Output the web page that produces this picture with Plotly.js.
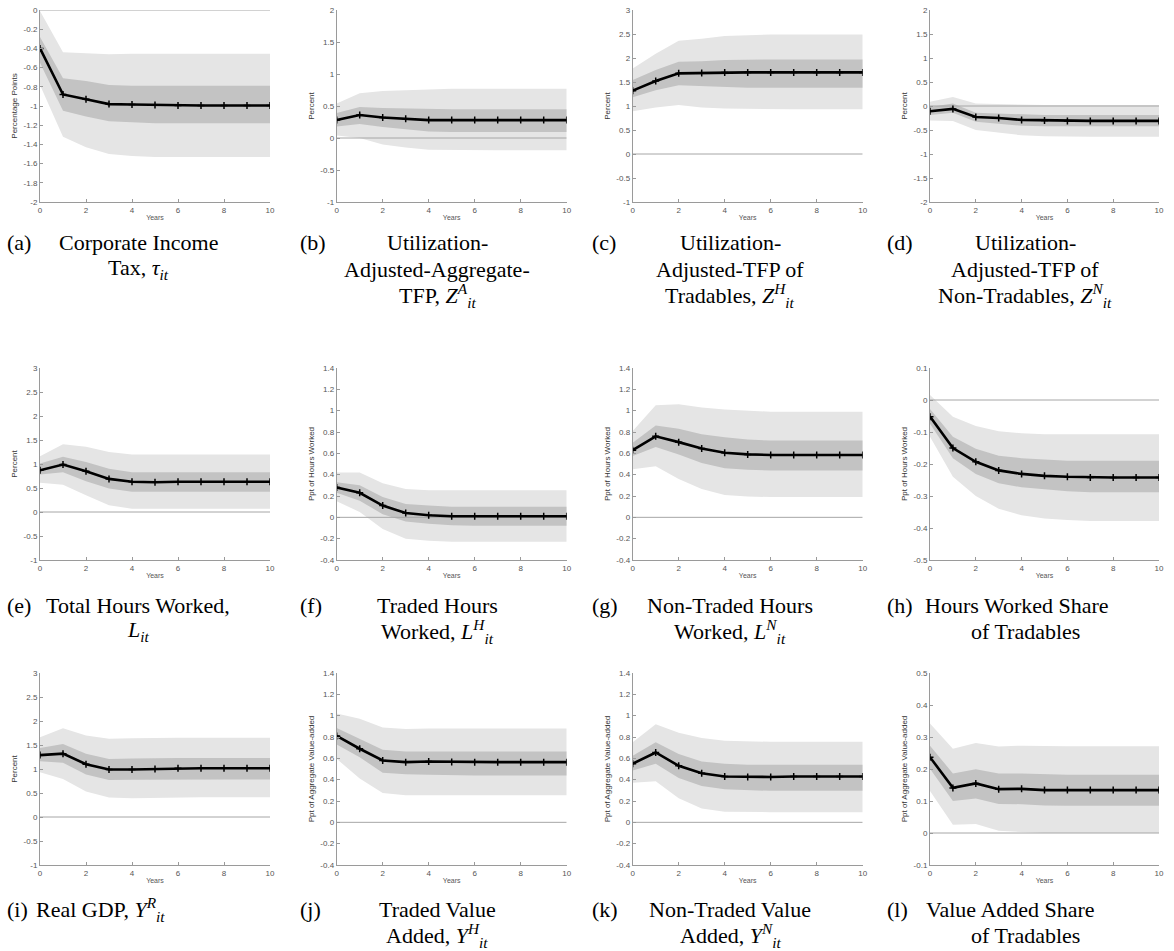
<!DOCTYPE html>
<html><head><meta charset="utf-8">
<script src="https://cdn.plot.ly/plotly-3.0.1.min.js"></script>
<style>html,body{margin:0;padding:0;background:#fff}#chart{width:1174px;height:951px}</style>
</head><body><div id="chart"></div>
<script>
const years = [0,1,2,3,4,5,6,7,8,9,10];

// (a) Corporate income tax
const taxIrf     = [-0.40,-0.88,-0.93,-0.98,-0.985,-0.99,-0.995,-0.995,-0.995,-0.995,-0.995];
const taxHi68    = [-0.28,-0.71,-0.74,-0.78,-0.79,-0.79,-0.79,-0.79,-0.79,-0.79,-0.79];
const taxLo68    = [-0.55,-1.05,-1.11,-1.16,-1.17,-1.18,-1.18,-1.18,-1.18,-1.18,-1.18];
const taxHi90    = [-0.01,-0.44,-0.45,-0.46,-0.455,-0.455,-0.455,-0.455,-0.455,-0.455,-0.455];
const taxLo90    = [-0.78,-1.32,-1.43,-1.50,-1.52,-1.53,-1.53,-1.53,-1.53,-1.53,-1.53];
// (b) Aggregate TFP
const zaIrf  = [0.28,0.36,0.32,0.30,0.28,0.28,0.28,0.28,0.28,0.28,0.28];
const zaHi68 = [0.39,0.485,0.47,0.46,0.45,0.45,0.45,0.45,0.45,0.45,0.45];
const zaLo68 = [0.18,0.22,0.17,0.135,0.10,0.095,0.095,0.095,0.095,0.095,0.095];
const zaHi90 = [0.54,0.70,0.735,0.745,0.765,0.77,0.77,0.77,0.77,0.77,0.77];
const zaLo90 = [0.04,0.0,-0.10,-0.15,-0.185,-0.19,-0.19,-0.19,-0.19,-0.19,-0.19];
// (c) TFP tradables
const zhIrf  = [1.32,1.52,1.68,1.69,1.70,1.70,1.70,1.70,1.70,1.70,1.70];
const zhHi68 = [1.54,1.75,1.92,1.93,1.96,1.97,1.97,1.97,1.97,1.97,1.97];
const zhLo68 = [1.18,1.33,1.43,1.41,1.39,1.38,1.38,1.38,1.38,1.38,1.38];
const zhHi90 = [1.78,2.09,2.36,2.40,2.46,2.48,2.49,2.49,2.49,2.49,2.49];
const zhLo90 = [0.89,0.97,1.02,0.97,0.95,0.94,0.93,0.93,0.93,0.93,0.93];
// (d) TFP non-tradables
const znIrf  = [-0.11,-0.06,-0.23,-0.25,-0.29,-0.30,-0.31,-0.31,-0.31,-0.31,-0.31];
const znHi68 = [-0.02,0.05,-0.14,-0.16,-0.18,-0.19,-0.19,-0.19,-0.19,-0.19,-0.19];
const znLo68 = [-0.19,-0.14,-0.33,-0.37,-0.41,-0.42,-0.42,-0.42,-0.42,-0.42,-0.42];
const znHi90 = [0.09,0.19,0.05,0.04,0.02,0.02,0.02,0.02,0.02,0.02,0.02];
const znLo90 = [-0.30,-0.31,-0.50,-0.56,-0.61,-0.63,-0.64,-0.64,-0.64,-0.64,-0.64];
// (e) Total hours
const lIrf  = [0.87,0.99,0.85,0.69,0.63,0.62,0.63,0.63,0.63,0.63,0.63];
const lHi68 = [1.01,1.15,1.04,0.90,0.83,0.83,0.83,0.83,0.83,0.83,0.83];
const lLo68 = [0.78,0.83,0.64,0.49,0.42,0.42,0.42,0.42,0.42,0.42,0.42];
const lHi90 = [1.16,1.41,1.36,1.25,1.20,1.20,1.20,1.20,1.20,1.20,1.20];
const lLo90 = [0.61,0.57,0.35,0.14,0.07,0.07,0.07,0.07,0.07,0.07,0.07];
// (f) Traded hours
const lhIrf  = [0.28,0.23,0.11,0.04,0.02,0.01,0.01,0.01,0.01,0.01,0.01];
const lhHi68 = [0.33,0.30,0.19,0.125,0.11,0.10,0.10,0.10,0.10,0.10,0.10];
const lhLo68 = [0.23,0.155,0.03,-0.04,-0.06,-0.075,-0.08,-0.08,-0.08,-0.08,-0.08];
const lhHi90 = [0.42,0.42,0.32,0.265,0.255,0.255,0.255,0.255,0.255,0.255,0.255];
const lhLo90 = [0.15,0.05,-0.11,-0.20,-0.22,-0.23,-0.23,-0.23,-0.23,-0.23,-0.23];
// (g) Non-traded hours
const lnIrf  = [0.63,0.76,0.705,0.645,0.605,0.59,0.585,0.585,0.585,0.585,0.585];
const lnHi68 = [0.70,0.86,0.83,0.78,0.75,0.73,0.72,0.72,0.72,0.72,0.72];
const lnLo68 = [0.575,0.66,0.59,0.51,0.46,0.445,0.44,0.44,0.44,0.44,0.44];
const lnHi90 = [0.81,1.05,1.06,1.03,1.01,1.00,0.99,0.99,0.99,0.99,0.99];
const lnLo90 = [0.45,0.48,0.36,0.265,0.21,0.195,0.19,0.19,0.19,0.19,0.19];
// (h) Hours worked share of tradables
const shlIrf  = [-0.052,-0.15,-0.193,-0.22,-0.231,-0.237,-0.24,-0.242,-0.242,-0.242,-0.242];
const shlHi68 = [-0.028,-0.115,-0.152,-0.174,-0.182,-0.187,-0.19,-0.19,-0.19,-0.19,-0.19];
const shlLo68 = [-0.074,-0.182,-0.231,-0.26,-0.273,-0.28,-0.285,-0.288,-0.288,-0.288,-0.288];
const shlHi90 = [0.016,-0.052,-0.081,-0.098,-0.104,-0.107,-0.107,-0.107,-0.107,-0.107,-0.107];
const shlLo90 = [-0.115,-0.24,-0.30,-0.34,-0.36,-0.37,-0.375,-0.378,-0.378,-0.378,-0.378];
// (i) Real GDP
const yrIrf  = [1.29,1.32,1.10,0.99,0.99,1.00,1.015,1.015,1.015,1.015,1.015];
const yrHi68 = [1.44,1.52,1.32,1.21,1.22,1.23,1.23,1.23,1.23,1.23,1.23];
const yrLo68 = [1.16,1.13,0.885,0.77,0.775,0.78,0.78,0.78,0.78,0.78,0.78];
const yrHi90 = [1.66,1.85,1.70,1.63,1.64,1.65,1.65,1.65,1.65,1.65,1.65];
const yrLo90 = [0.93,0.79,0.53,0.405,0.39,0.40,0.41,0.41,0.41,0.41,0.41];
// (j) Traded value added
const yhIrf  = [0.81,0.69,0.58,0.564,0.57,0.566,0.564,0.564,0.564,0.564,0.564];
const yhHi68 = [0.885,0.78,0.68,0.663,0.663,0.663,0.663,0.663,0.663,0.663,0.663];
const yhLo68 = [0.73,0.61,0.465,0.45,0.445,0.44,0.44,0.44,0.44,0.44,0.44];
const yhHi90 = [1.02,0.97,0.89,0.875,0.88,0.88,0.88,0.88,0.88,0.88,0.88];
const yhLo90 = [0.595,0.41,0.275,0.255,0.255,0.255,0.255,0.255,0.255,0.255,0.255];
// (k) Non-traded value added
const ynIrf  = [0.55,0.655,0.53,0.46,0.43,0.425,0.425,0.43,0.43,0.43,0.43];
const ynHi68 = [0.625,0.75,0.64,0.57,0.55,0.54,0.54,0.54,0.54,0.54,0.54];
const ynLo68 = [0.485,0.55,0.415,0.34,0.31,0.30,0.295,0.295,0.295,0.295,0.295];
const ynHi90 = [0.75,0.92,0.84,0.79,0.765,0.758,0.755,0.755,0.755,0.755,0.755];
const ynLo90 = [0.37,0.385,0.225,0.13,0.10,0.095,0.095,0.095,0.095,0.095,0.095];
// (l) Value added share of tradables
const shyIrf  = [0.237,0.141,0.155,0.137,0.138,0.134,0.134,0.134,0.134,0.134,0.134];
const shyHi68 = [0.273,0.186,0.199,0.186,0.186,0.183,0.182,0.182,0.182,0.182,0.182];
const shyLo68 = [0.201,0.10,0.108,0.091,0.09,0.086,0.085,0.085,0.085,0.085,0.085];
const shyHi90 = [0.342,0.263,0.281,0.27,0.273,0.271,0.271,0.271,0.271,0.271,0.271];
const shyLo90 = [0.131,0.026,0.028,0.007,0.003,0.0,0.0,0.0,0.0,0.0,0.0];

const xTicks = [0,2,4,6,8,10];
const yLabels = ["Percentage Points","Percent","Percent","Percent",
  "Percent","Ppt of Hours Worked","Ppt of Hours Worked","Ppt of Hours Worked",
  "Percent","Ppt of Aggregate Value-added","Ppt of Aggregate Value-added","Ppt of Aggregate Value-added"];
const yRanges = [[-2,0],[-1,2],[-1,3],[-2,2],[-1,3],[-0.4,1.4],[-0.4,1.4],[-0.5,0.1],[-1,3],[-0.4,1.4],[-0.4,1.4],[-0.1,0.5]];
const yDticks = [0.2,0.5,0.5,0.5,0.5,0.2,0.2,0.1,0.5,0.2,0.2,0.1];

const captionTags = ["(a)","(b)","(c)","(d)","(e)","(f)","(g)","(h)","(i)","(j)","(k)","(l)"];
const captionLines = [
  ["Corporate Income","Tax, <i>τ<sub>it</sub></i>"],
  ["Utilization-","Adjusted-Aggregate-","TFP, <i>Z</i><sup><i>A</i></sup><sub><i>it</i></sub>"],
  ["Utilization-","Adjusted-TFP of","Tradables, <i>Z</i><sup><i>H</i></sup><sub><i>it</i></sub>"],
  ["Utilization-","Adjusted-TFP of","Non-Tradables, <i>Z</i><sup><i>N</i></sup><sub><i>it</i></sub>"],
  ["Total Hours Worked,","<i>L<sub>it</sub></i>"],
  ["Traded Hours","Worked, <i>L</i><sup><i>H</i></sup><sub><i>it</i></sub>"],
  ["Non-Traded Hours","Worked, <i>L</i><sup><i>N</i></sup><sub><i>it</i></sub>"],
  ["Hours Worked Share","of Tradables"],
  ["Real GDP, <i>Y</i><sup><i>R</i></sup><sub><i>it</i></sub>"],
  ["Traded Value","Added, <i>Y</i><sup><i>H</i></sup><sub><i>it</i></sub>"],
  ["Non-Traded Value","Added, <i>Y</i><sup><i>N</i></sup><sub><i>it</i></sub>"],
  ["Value Added Share","of Tradables"]
];

const series = [
  [taxIrf,taxHi68,taxLo68,taxHi90,taxLo90],
  [zaIrf,zaHi68,zaLo68,zaHi90,zaLo90],
  [zhIrf,zhHi68,zhLo68,zhHi90,zhLo90],
  [znIrf,znHi68,znLo68,znHi90,znLo90],
  [lIrf,lHi68,lLo68,lHi90,lLo90],
  [lhIrf,lhHi68,lhLo68,lhHi90,lhLo90],
  [lnIrf,lnHi68,lnLo68,lnHi90,lnLo90],
  [shlIrf,shlHi68,shlLo68,shlHi90,shlLo90],
  [yrIrf,yrHi68,yrLo68,yrHi90,yrLo90],
  [yhIrf,yhHi68,yhLo68,yhHi90,yhLo90],
  [ynIrf,ynHi68,ynLo68,ynHi90,ynLo90],
  [shyIrf,shyHi68,shyLo68,shyHi90,shyLo90]
];

const W = 1174, H = 951;
const colL = [40,336.7,632.7,930], colR = [270,566.7,862.7,1159];
const rowT = [10,368,673], rowB = [202,560,865];
const capCenter = [138,437,730,1025];
const tagX = [5,298,590,885];
const capLineY = [[243,269,295],[605,631],[909,935]];
// long first lines that start at the left edge of the caption box (panel index -> left px)
const leftStart = {4:44, 7:923, 8:34, 11:924};

const AXC = '#9a9a9a', TXC = '#555555';
const tickFont = {family:'Liberation Sans, Arial, sans-serif', size:8, color:TXC};

const traces = [], layout = {
  width:W, height:H, margin:{l:0,r:0,t:0,b:0}, showlegend:false,
  paper_bgcolor:'#fff', plot_bgcolor:'rgba(0,0,0,0)', annotations:[]
};

function fmt(v){ return String(Number(v.toFixed(3))); }

series.forEach((s,i)=>{
  const r = Math.floor(i/4), c = i%4, n = i+1;
  const xa = 'x'+(n===1?'':n), ya = 'y'+(n===1?'':n);
  const [irf,hi68,lo68,hi90,lo90] = s;
  traces.push({x:years,y:lo90,xaxis:xa,yaxis:ya,mode:'lines',line:{width:0,color:'rgba(0,0,0,0)'},hoverinfo:'skip'});
  traces.push({x:years,y:hi90,xaxis:xa,yaxis:ya,mode:'lines',line:{width:0,color:'rgba(0,0,0,0)'},fill:'tonexty',fillcolor:'#e5e5e5',hoverinfo:'skip'});
  traces.push({x:years,y:lo68,xaxis:xa,yaxis:ya,mode:'lines',line:{width:0,color:'rgba(0,0,0,0)'},hoverinfo:'skip'});
  traces.push({x:years,y:hi68,xaxis:xa,yaxis:ya,mode:'lines',line:{width:0,color:'rgba(0,0,0,0)'},fill:'tonexty',fillcolor:'#c3c3c3',hoverinfo:'skip'});
  traces.push({x:[years[0],years[years.length-1]],y:[0,0],xaxis:xa,yaxis:ya,mode:'lines',line:{width:1,color:'#a6a6a6'},hoverinfo:'skip'});
  traces.push({x:years,y:irf,xaxis:xa,yaxis:ya,mode:'lines+markers',line:{width:2.6,color:'#000'},
    marker:{symbol:'cross-thin',size:5,color:'#000',line:{width:1.5,color:'#000'}}});

  const [y0,y1] = yRanges[i], dt = yDticks[i];
  const tv = []; for(let v=y0; v<=y1+1e-9; v+=dt) tv.push(Number(v.toFixed(3)));
  const key = n===1?'':n;
  layout['xaxis'+key] = {
    domain:[colL[c]/W, colR[c]/W], anchor:ya, range:[0,10], tickvals:xTicks, ticktext:xTicks.map(String),
    ticks:'inside', ticklen:3, tickcolor:AXC, showline:true, linecolor:AXC, linewidth:1, showgrid:false, zeroline:false,
    tickfont:tickFont, title:{text:'Years', font:{family:'Liberation Sans, Arial, sans-serif', size:7, color:TXC}, standoff:1}
  };
  layout['yaxis'+key] = {
    domain:[1-rowB[r]/H, 1-rowT[r]/H], anchor:xa, range:[y0,y1], tickvals:tv, ticktext:tv.map(fmt),
    ticks:'inside', ticklen:3, tickcolor:AXC, showline:true, linecolor:AXC, linewidth:1, showgrid:false, zeroline:false,
    tickfont:tickFont, title:{text:yLabels[i], font:{family:'Liberation Sans, Arial, sans-serif', size:8, color:'#333'}, standoff:4}
  };

  const capFont = {family:'Liberation Serif, Times New Roman, serif', size:22, color:'#000'};
  layout.annotations.push({xref:'paper',yref:'paper',x:tagX[c]/W,y:1-capLineY[r][0]/H,xanchor:'left',yanchor:'middle',
    text:captionTags[i],showarrow:false,font:capFont});
  captionLines[i].forEach((t,k)=>{
    const isLeft = (k===0 && leftStart[i]!==undefined);
    layout.annotations.push({xref:'paper',yref:'paper',
      x:(isLeft?leftStart[i]:capCenter[c])/W, y:1-capLineY[r][k]/H,
      xanchor:isLeft?'left':'center', yanchor:'middle',
      text:t,showarrow:false,font:capFont});
  });
});

Plotly.newPlot('chart', traces, layout, {staticPlot:true});
</script></body></html>
